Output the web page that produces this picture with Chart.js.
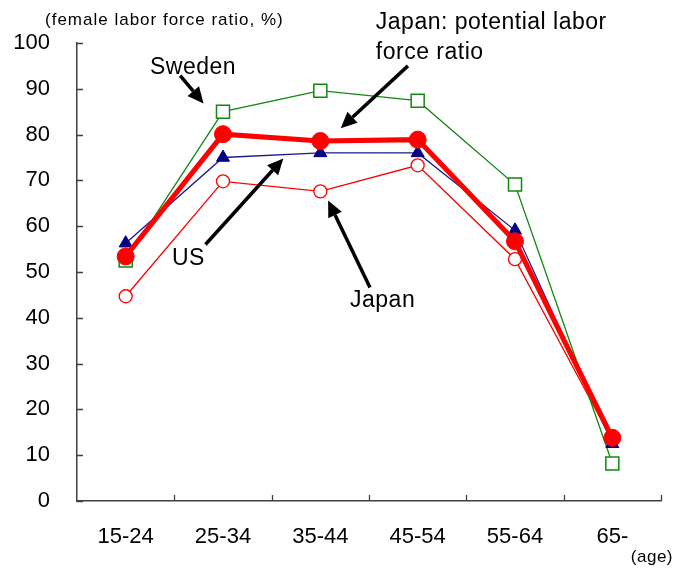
<!DOCTYPE html>
<html>
<head>
<meta charset="utf-8">
<script src="https://cdn.jsdelivr.net/npm/chart.js@4/dist/chart.umd.min.js"></script>
<style>
  html, body { margin: 0; padding: 0; background: #fff; }
  #wrap { width: 674px; height: 568px; position: relative; }
</style>
</head>
<body>
<div id="wrap"><canvas id="c"></canvas></div>
<script>
// Female labor force ratio (%) by age group
const ageGroups = ['15-24', '25-34', '35-44', '45-54', '55-64', '65-'];
const japanPotential = [53.4, 80.1, 78.6, 78.9, 56.7, 13.8];
const usRatio = [56.3, 75.0, 76.0, 76.0, 59.1, 12.5];
const swedenRatio = [52.5, 85.0, 89.6, 87.4, 69.1, 8.2];
const japanRatio = [44.7, 69.8, 67.6, 73.3, 52.8, 13.2];
const yTickValues = [0, 10, 20, 30, 40, 50, 60, 70, 80, 90, 100];

const FONT = '"Liberation Sans", Arial, sans-serif';

// Callout labels and arrows, placed in axis units (category index, percent)
const callouts = [
  { lines: ['Sweden'], x: 0.25, y: 94.7, arrow: [0.56, 92.9, 0.80, 86.8] },
  { lines: ['Japan: potential labor', 'force ratio'], x: 2.57, y: 104.4, arrow: [2.90, 95.0, 2.21, 81.4] },
  { lines: ['US'], x: 0.475, y: 53.0, arrow: [0.82, 56.0, 1.62, 74.8] },
  { lines: ['Japan'], x: 2.305, y: 43.8, arrow: [2.51, 46.6, 2.08, 65.6] }
];

function drawArrow(ctx, x1, y1, x2, y2) {
  const ang = Math.atan2(y2 - y1, x2 - x1);
  const headLen = 16, headHalf = 7.5;
  const bx = x2 - headLen * Math.cos(ang), by = y2 - headLen * Math.sin(ang);
  ctx.beginPath();
  ctx.moveTo(x1, y1);
  ctx.lineTo(bx, by);
  ctx.lineWidth = 3.5;
  ctx.strokeStyle = '#000';
  ctx.stroke();
  ctx.beginPath();
  ctx.moveTo(x2, y2);
  ctx.lineTo(bx + headHalf * Math.sin(ang), by - headHalf * Math.cos(ang));
  ctx.lineTo(bx - headHalf * Math.sin(ang), by + headHalf * Math.cos(ang));
  ctx.closePath();
  ctx.fillStyle = '#000';
  ctx.fill();
}

const innerTicks = {
  id: 'innerTicks',
  afterDraw(chart) {
    const { ctx, chartArea: a, scales: { x, y } } = chart;
    ctx.save();
    ctx.strokeStyle = '#404040';
    ctx.lineWidth = 1.3;
    ctx.beginPath();
    yTickValues.forEach(v => {
      const py = Math.round(y.getPixelForValue(v)) + 0.5;
      ctx.moveTo(a.left, py);
      ctx.lineTo(a.left + 6, py);
    });
    for (let i = 1; i <= ageGroups.length; i++) {
      const px = Math.round(x.getPixelForValue(i - 0.5)) + 0.5;
      ctx.moveTo(px, a.bottom);
      ctx.lineTo(px, a.bottom - 6);
    }
    ctx.stroke();
    ctx.restore();
  }
};

const annotations = {
  id: 'annotations',
  afterDatasetsDraw(chart) {
    const { ctx, scales: { x, y } } = chart;
    ctx.save();
    callouts.forEach(c => {
      const [ax1, ay1, ax2, ay2] = c.arrow;
      drawArrow(ctx, x.getPixelForValue(ax1), y.getPixelForValue(ay1),
                     x.getPixelForValue(ax2), y.getPixelForValue(ay2));
    });
    ctx.fillStyle = '#000';
    ctx.font = '23px ' + FONT;
    ctx.letterSpacing = '0.5px';
    ctx.textAlign = 'left';
    ctx.textBaseline = 'middle';
    callouts.forEach(c => {
      const px = x.getPixelForValue(c.x);
      const py = y.getPixelForValue(c.y);
      c.lines.forEach((t, i) => ctx.fillText(t, px, py + i * 30));
    });
    // axis captions
    ctx.font = '17px ' + FONT;
    ctx.letterSpacing = '1px';
    ctx.fillText('(female labor force ratio, %)', 45, 20);
    ctx.textAlign = 'right';
    ctx.letterSpacing = '0.5px';
    ctx.fillText('(age)', 673, 557);
    ctx.restore();
  }
};

new Chart(document.getElementById('c'), {
  type: 'line',
  data: {
    labels: ageGroups,
    datasets: [
      {
        label: 'Japan: potential labor force ratio', data: japanPotential, order: 0,
        borderColor: '#ff0000', backgroundColor: '#ff0000', borderWidth: 5,
        pointStyle: 'circle', pointRadius: 8.5, pointBackgroundColor: '#ff0000',
        pointBorderColor: '#ff0000', pointBorderWidth: 1
      },
      {
        label: 'US', data: usRatio, order: 1,
        borderColor: '#1a1a8c', borderWidth: 1.3,
        pointStyle: 'triangle', pointRadius: 7.5, pointBackgroundColor: '#000080',
        pointBorderColor: '#000080', pointBorderWidth: 1
      },
      {
        label: 'Sweden', data: swedenRatio, order: 2,
        borderColor: '#118811', borderWidth: 1.3,
        pointStyle: 'rect', pointRadius: 9.2, pointBackgroundColor: '#ffffff',
        pointBorderColor: '#118811', pointBorderWidth: 1.5
      },
      {
        label: 'Japan', data: japanRatio, order: 3,
        borderColor: '#ff0000', borderWidth: 1.3,
        pointStyle: 'circle', pointRadius: 6.5, pointBackgroundColor: '#ffffff',
        pointBorderColor: '#ff0000', pointBorderWidth: 1.3
      }
    ]
  },
  options: {
    responsive: true,
    maintainAspectRatio: false,
    animation: false,
    devicePixelRatio: 1,
    clip: false,
    layout: { padding: { top: 43, right: 13, left: 0, bottom: 0 } },
    plugins: { legend: { display: false }, tooltip: { enabled: false } },
    elements: { line: { tension: 0 } },
    scales: {
      x: {
        offset: true,
        grid: { display: false, drawTicks: false },
        border: { display: true, color: '#404040', width: 1.5 },
        ticks: { color: '#000', padding: 23, font: { family: FONT, size: 22 }, maxRotation: 0 },
        afterFit(s) { s.height = 67; }
      },
      y: {
        min: 0, max: 100,
        afterBuildTicks(s) { s.ticks = yTickValues.map(v => ({ value: v })); },
        grid: { display: false, drawTicks: false },
        border: { display: true, color: '#404040', width: 1.5 },
        ticks: { color: '#000', padding: 27, font: { family: FONT, size: 22 } },
        afterFit(s) { s.width = 77; }
      }
    }
  },
  plugins: [innerTicks, annotations]
});
</script>
</body>
</html>
